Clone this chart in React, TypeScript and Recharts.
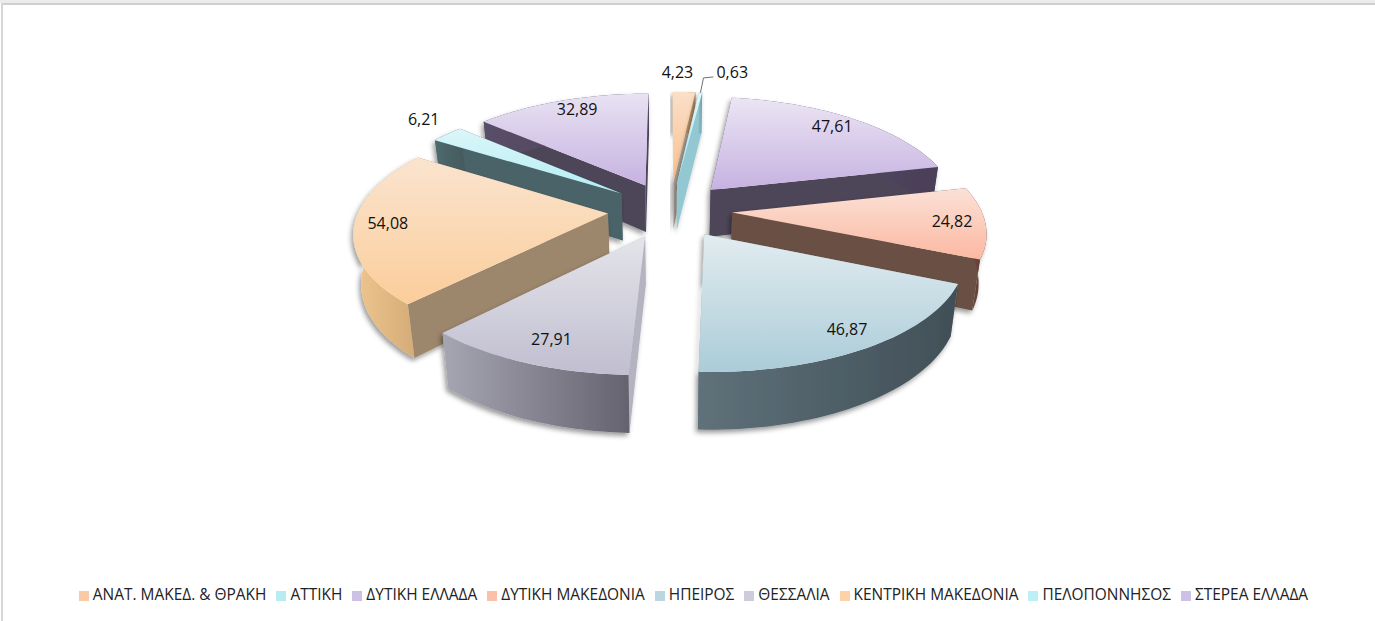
import { Legend, Pie, PieChart } from "recharts";

const regions = [
  "ΑΝΑΤ. ΜΑΚΕΔ. & ΘΡΑΚΗ",
  "ΑΤΤΙΚΗ",
  "ΔΥΤΙΚΗ ΕΛΛΑΔΑ",
  "ΔΥΤΙΚΗ ΜΑΚΕΔΟΝΙΑ",
  "ΗΠΕΙΡΟΣ",
  "ΘΕΣΣΑΛΙΑ",
  "ΚΕΝΤΡΙΚΗ ΜΑΚΕΔΟΝΙΑ",
  "ΠΕΛΟΠΟΝΝΗΣΟΣ",
  "ΣΤΕΡΕΑ ΕΛΛΑΔΑ",
];
const shares = [4.23, 0.63, 47.61, 24.82, 46.87, 27.91, 54.08, 6.21, 32.89];

// top light, top deep, cut wall, outer wall left, outer wall right
const tones = [
  ["#fbdfc8", "#f8c08e", "#b3a89c", "#d8a878", "#b08a64"],
  ["#dff7fa", "#a9e6ee", "#93c8d2", "#8cc5cf", "#6f9ea8"],
  ["#ebe5f4", "#c6b2e1", "#4e4459", "#5a4f68", "#4a4058"],
  ["#fbe1d7", "#fcb8a1", "#6b4f45", "#7a5044", "#5c3c32"],
  ["#e2ecf0", "#abccd8", "#8e9ea6", "#5f717a", "#414f57"],
  ["#e4e4ea", "#c0bed0", "#b4b3c0", "#a6a5b2", "#65636f"],
  ["#fae4cf", "#fbcd9a", "#9c866c", "#efc68e", "#d0a874"],
  ["#dcf6f9", "#b2eef5", "#4a6468", "#4f6a6e", "#435a5e"],
  ["#e8e2f2", "#c6b2e1", "#4e4459", "#5a4f68", "#4a4058"],
];
const legendColors = ["#f8cba6", "#b8ecf3", "#cfc0e6", "#fcc0aa", "#bcd6e0", "#cdccda", "#fbd3a6", "#bdf0f6", "#cfc0e6"];

// how far along the slice each label sits, in radii, plus a nudge in px
const labelPlace = [
  [1.24, -9, -1],
  [1.24, 27, -2],
  [0.87, -4, -1],
  [0.87, 0, -1],
  [0.87, 4, -2],
  [0.87, 9, -5],
  [0.88, 3, -3],
  [1.2, 8, -4],
  [0.87, 6, -2],
];

const rows = regions.map((name, i) => ({ name, value: shares[i], fill: legendColors[i], tone: i }));
const rowsReversed = [...rows].reverse();

// slices on the left half have to be painted from the back forward, counter-clockwise
const isLeft = (tone: number) => tone >= 5;

const RADIUS = 249;
const EXPLODE = 0.25;
const TILT = 111 / RADIUS;
const PERSPECTIVE_X = 0.15;
const PERSPECTIVE_Y = 0.14;
const DEPTH = 48 / RADIUS;
const FLOOR_SHRINK = 0.975;

function project(cx: number, cy: number, radius: number, u: number, v: number, floor = false) {
  const sx = 1 / (1 - PERSPECTIVE_X * v);
  const sy = 1 / (1 - PERSPECTIVE_Y * v);
  const x = u * radius * sx * (floor ? FLOOR_SHRINK : 1);
  const y = v * radius * TILT * sy + (floor ? DEPTH * radius * sy : 0);
  return { x: cx + x, y: cy + y };
}

function toPath(points: Array<{ x: number; y: number }>) {
  return points.map((p, i) => (i ? "L" : "M") + p.x.toFixed(1) + " " + p.y.toFixed(1)).join(" ") + " Z";
}

function sliceGeometry(props: any) {
  const { cx, cy, outerRadius, startAngle, endAngle } = props;
  const mid = (((startAngle + endAngle) / 2) * Math.PI) / 180;
  const apex = { u: EXPLODE * Math.cos(mid), v: -EXPLODE * Math.sin(mid) };
  const steps = 40;
  const arc = [];
  for (let i = 0; i <= steps; i++) {
    const a = ((startAngle + ((endAngle - startAngle) * i) / steps) * Math.PI) / 180;
    arc.push({ u: apex.u + Math.cos(a), v: apex.v - Math.sin(a) });
  }
  const top = (p: { u: number; v: number }) => project(cx, cy, outerRadius, p.u, p.v);
  const floor = (p: { u: number; v: number }) => project(cx, cy, outerRadius, p.u, p.v, true);
  return { apex, arc, top, floor };
}

function Slice3D(props: any) {
  const tone = props.payload?.tone ?? props.tone;
  const { apex, arc, top, floor } = sliceGeometry(props);
  const first = arc[0];
  const last = arc[arc.length - 1];
  const wall = (p: { u: number; v: number }) => [top(apex), top(p), floor(p), floor(apex)];
  const outer = [...arc.map(top), ...[...arc].reverse().map(floor)];
  return (
    <g>
      <g filter="url(#sliceShadow)">
        <path d={toPath(wall(first))} fill={tones[tone][2]} />
        <path d={toPath(wall(last))} fill={tones[tone][2]} />
        <path d={toPath(outer)} fill={`url(#wall${tone})`} />
      </g>
      <path d={toPath([top(apex), ...arc.map(top)])} fill={`url(#top${tone})`} />
    </g>
  );
}

function SliceLabel(props: any) {
  const tone = props.payload?.tone ?? props.tone;
  const { cx, cy, outerRadius, midAngle, value } = props;
  const [reach, dx, dy] = labelPlace[tone];
  const a = (midAngle * Math.PI) / 180;
  const apexU = EXPLODE * Math.cos(a);
  const apexV = -EXPLODE * Math.sin(a);
  const p = project(cx, cy, outerRadius, apexU + reach * Math.cos(a), apexV - reach * Math.sin(a));
  const text = String(value).replace(".", ",");
  const tip = project(cx, cy, outerRadius, apexU + Math.cos(a), apexV - Math.sin(a));
  return (
    <g>
      {tone === 1 && (
        <polyline
          points={`${tip.x},${tip.y} ${tip.x + 3},${p.y + dy + 6} ${tip.x + 13},${p.y + dy + 5}`}
          fill="none"
          stroke="#6b7278"
          strokeWidth={1}
        />
      )}
      <text
        x={p.x + dx}
        y={p.y + dy}
        textAnchor="middle"
        dominantBaseline="central"
        fontFamily="'Open Sans', sans-serif"
        fontSize={16}
        fill="#111"
      >
        {text}
      </text>
    </g>
  );
}

function Defs() {
  return (
    <defs>
      {tones.map((t, i) => (
        <linearGradient key={`top${i}`} id={`top${i}`} x1="0" y1="0" x2="0" y2="1">
          <stop offset="0%" stopColor={t[0]} />
          <stop offset="100%" stopColor={t[1]} />
        </linearGradient>
      ))}
      {tones.map((t, i) => (
        <linearGradient key={`wall${i}`} id={`wall${i}`} x1="0" y1="0" x2="1" y2="0">
          <stop offset="0%" stopColor={t[3]} />
          <stop offset="100%" stopColor={t[4]} />
        </linearGradient>
      ))}
      <filter id="sliceShadow" x="-10%" y="-10%" width="120%" height="125%">
        <feDropShadow dx={-2} dy={3} stdDeviation={2.5} floodColor="#000" floodOpacity={0.4} />
      </filter>
    </defs>
  );
}

export default function App() {
  return (
    <div style={{ position: "absolute", left: 0, top: 0, width: 1375, height: 621, background: "#fff", overflow: "hidden" }}>
      {/* the grey frame the screenshot was cropped with */}
      <div style={{ position: "absolute", left: 0, top: 0, width: 1375, height: 3, background: "#ececec" }} />
      <div style={{ position: "absolute", left: 1, top: 3, width: 1374, height: 2, background: "#cfcfcf" }} />
      <div style={{ position: "absolute", left: 1, top: 3, width: 2, height: 618, background: "#d6d6d6" }} />
      <PieChart width={1375} height={621} margin={{ top: 0, right: 0, bottom: 0, left: 0 }}>
        <Defs />
        <Pie
          data={rowsReversed}
          dataKey="value"
          nameKey="name"
          cx={670}
          cy={210}
          outerRadius={RADIUS}
          startAngle={90}
          endAngle={450}
          stroke="none"
          legendType="none"
          isAnimationActive={false}
          labelLine={false}
          shape={(p: any) => (isLeft(p.payload?.tone ?? p.tone) ? <Slice3D {...p} /> : <g />)}
          label={(p: any) => (isLeft(p.payload?.tone ?? p.tone) ? <SliceLabel {...p} /> : <g />)}
        />
        <Pie
          data={rows}
          dataKey="value"
          nameKey="name"
          cx={670}
          cy={210}
          outerRadius={RADIUS}
          startAngle={90}
          endAngle={-270}
          stroke="none"
          isAnimationActive={false}
          labelLine={false}
          shape={(p: any) => (isLeft(p.payload?.tone ?? p.tone) ? <g /> : <Slice3D {...p} />)}
          label={(p: any) => (isLeft(p.payload?.tone ?? p.tone) ? <g /> : <SliceLabel {...p} />)}
        />
        <Legend
          verticalAlign="bottom"
          align="center"
          iconType="square"
          iconSize={10}
          wrapperStyle={{ bottom: 16, left: 11, fontFamily: "'Open Sans', sans-serif", fontSize: 15.45 }}
          formatter={(value: string) => <span style={{ color: "#222" }}>{value}</span>}
        />
      </PieChart>
    </div>
  );
}
